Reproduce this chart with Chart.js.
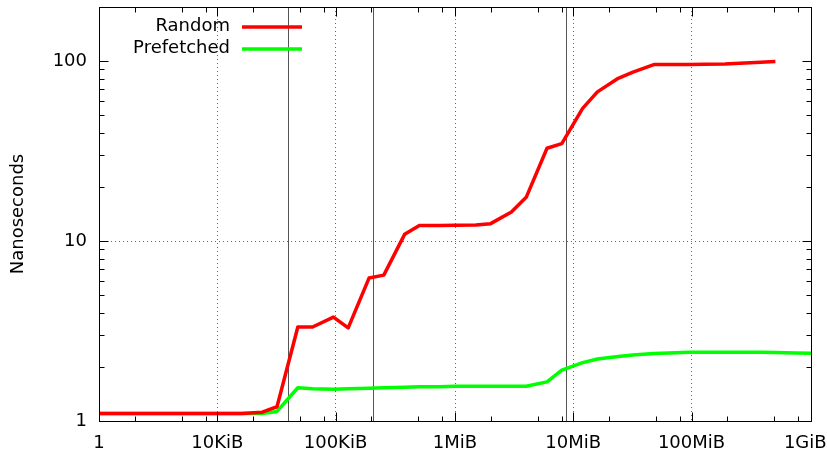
<!DOCTYPE html>
<html>
<head>
<meta charset="utf-8">
<script src="https://cdn.jsdelivr.net/npm/chart.js@4.4.1/dist/chart.umd.min.js"></script>
<style>
  html, body { margin: 0; padding: 0; background: #fff; }
</style>
</head>
<body>
<canvas id="cacheChart" width="827" height="454"></canvas>
<script>
// working set size in KiB
const sizesKiB = [1, 2, 4, 8, 12, 16, 24, 32, 48, 64, 96, 128, 192, 256, 384, 512, 768, 1024,
    1536, 2048, 3072, 4096, 6144, 8192, 12288, 16384, 24576, 32768, 49152, 65536, 98304,
    131072, 196608, 262144, 393216, 524288, 786432, 1048576];

const randomNs = [1.1, 1.1, 1.1, 1.1, 1.1, 1.1, 1.12, 1.2, 3.33, 3.33, 3.78, 3.29, 6.23, 6.47,
    10.9, 12.2, 12.2, 12.25, 12.3, 12.5, 14.5, 17.5, 32.8, 34.8, 54.6, 67.5, 80.3, 87, 95.7,
    95.8, 95.8, 96, 96.5, 97.5, 98.7, 99.6, null, null];

const prefetchedNs = [1.1, 1.1, 1.1, 1.1, 1.1, 1.1, 1.1, 1.13, 1.53, 1.51, 1.5, 1.51, 1.52, 1.53,
    1.54, 1.55, 1.55, 1.56, 1.56, 1.56, 1.56, 1.56, 1.65, 1.92, 2.11, 2.21, 2.28, 2.33, 2.37,
    2.39, 2.41, 2.41, 2.41, 2.41, 2.41, 2.4, 2.39, 2.38];

const xTickValues = [1, 10, 100, 1024, 10240, 102400, 1048576];
const xTickLabels = ['1', '10KiB', '100KiB', '1MiB', '10MiB', '100MiB', '1GiB'];
const xMinorSteps = [2, 5, 8];

const yTickValues = [1, 10, 100];
const yTickLabels = ['1', '10', '100'];
const yMinorValues = [2, 3, 4, 5, 6, 7, 8, 9, 20, 30, 40, 50, 60, 70, 80, 90, 200];

// cache size markers (KiB)
const cacheLinesKiB = [39.5, 206, 8890];

let xMinorValues = [];
xTickValues.slice(0, -1).forEach(v => {
    xMinorSteps.forEach(m => xMinorValues.push(v * m));
});

Chart.defaults.font.family = "'DejaVu Sans', sans-serif";
Chart.defaults.font.size = 18;
Chart.defaults.color = '#000';

function isInnerMajor(list, value) {
    return list.indexOf(value) > 0 && list.indexOf(value) < list.length - 1;
}

const gnuplotFrame = {
    id: 'gnuplotFrame',
    beforeDatasetsDraw(chart) {
        const { ctx, chartArea: a, scales: { x } } = chart;
        ctx.save();
        ctx.strokeStyle = '#555';
        ctx.lineWidth = 1;
        cacheLinesKiB.forEach(v => {
            const px = Math.round(x.getPixelForValue(v)) + 0.5;
            ctx.beginPath();
            ctx.moveTo(px, a.top);
            ctx.lineTo(px, a.bottom);
            ctx.stroke();
        });
        ctx.restore();
    },
    afterDraw(chart) {
        const { ctx, chartArea: a, scales: { x, y } } = chart;
        ctx.save();
        ctx.strokeStyle = '#000';
        ctx.lineWidth = 1;
        const l = Math.round(a.left) + 0.5, r = Math.round(a.right) + 0.5;
        const t = Math.round(a.top) + 0.5, b = Math.round(a.bottom) + 0.5;

        ctx.beginPath();
        const xt = (v, len) => {
            const px = Math.round(x.getPixelForValue(v)) + 0.5;
            ctx.moveTo(px, b); ctx.lineTo(px, b - len);
            ctx.moveTo(px, t); ctx.lineTo(px, t + len);
        };
        const yt = (v, len) => {
            const py = Math.round(y.getPixelForValue(v)) + 0.5;
            ctx.moveTo(l, py); ctx.lineTo(l + len, py);
            ctx.moveTo(r, py); ctx.lineTo(r - len, py);
        };
        xTickValues.forEach(v => xt(v, 9));
        xMinorValues.forEach(v => xt(v, 5));
        yTickValues.forEach(v => yt(v, 9));
        yMinorValues.forEach(v => yt(v, 5));
        ctx.stroke();
        ctx.strokeRect(l, t, r - l, b - t);

        // key, gnuplot style: text then sample line
        ctx.font = "18px 'DejaVu Sans', sans-serif";
        ctx.textAlign = 'right';
        ctx.textBaseline = 'middle';
        chart.data.datasets.forEach((ds, i) => {
            const ky = 26 + i * 22;
            ctx.fillStyle = '#000';
            ctx.fillText(ds.label, 230, ky);
            ctx.strokeStyle = ds.borderColor;
            ctx.lineWidth = 3.5;
            ctx.beginPath();
            ctx.moveTo(242, ky + 1);
            ctx.lineTo(302, ky + 1);
            ctx.stroke();
        });
        ctx.restore();
    }
};

function toPoints(values) {
    return sizesKiB.map((s, i) => ({ x: s, y: values[i] })).filter(p => p.y !== null);
}

new Chart('cacheChart', {
    type: 'line',
    data: {
        datasets: [{
            label: 'Random',
            data: toPoints(randomNs),
            borderColor: '#ff0000',
            borderWidth: 3.5,
            pointRadius: 0,
            tension: 0,
            borderJoinStyle: 'round'
        }, {
            label: 'Prefetched',
            data: toPoints(prefetchedNs),
            borderColor: '#00ff00',
            borderWidth: 3.5,
            pointRadius: 0,
            tension: 0,
            borderJoinStyle: 'round'
        }]
    },
    options: {
        responsive: false,
        animation: false,
        devicePixelRatio: 1,
        layout: { padding: { top: 7, right: 16, left: 0, bottom: 0 } },
        plugins: {
            legend: { display: false },
            tooltip: { enabled: false }
        },
        scales: {
            x: {
                type: 'logarithmic',
                min: 1,
                max: 1048576,
                afterBuildTicks: s => { s.ticks = xTickValues.map(v => ({ value: v })); },
                afterFit: s => { s.height = 33; s.paddingLeft = 0; s.paddingRight = 0; },
                ticks: {
                    autoSkip: false,
                    maxRotation: 0,
                    padding: 12,
                    callback: v => {
                        const i = xTickValues.indexOf(v);
                        if (i < 0) return '';
                        // last label is pulled in so it stays on the canvas
                        return i === xTickLabels.length - 1 ? xTickLabels[i] + '  ' : xTickLabels[i];
                    }
                },
                grid: {
                    drawTicks: false,
                    lineWidth: 1,
                    color: c => (c.tick && isInnerMajor(xTickValues, c.tick.value)) ? '#666' : 'rgba(0,0,0,0)'
                },
                border: { display: false, dash: [1, 3] }
            },
            y: {
                type: 'logarithmic',
                min: 1,
                max: 200,
                afterBuildTicks: s => { s.ticks = yTickValues.map(v => ({ value: v })); },
                afterFit: s => { s.width = 99; s.paddingTop = 0; s.paddingBottom = 0; },
                ticks: {
                    autoSkip: false,
                    padding: 12,
                    callback: v => {
                        const i = yTickValues.indexOf(v);
                        return i >= 0 ? yTickLabels[i] : '';
                    }
                },
                title: {
                    display: true,
                    text: 'Nanoseconds',
                    font: { size: 18 },
                    padding: { top: 8, bottom: 0 }
                },
                grid: {
                    drawTicks: false,
                    lineWidth: 1,
                    color: c => (c.tick && isInnerMajor(yTickValues, c.tick.value)) ? '#666' : 'rgba(0,0,0,0)'
                },
                border: { display: false, dash: [1, 3] }
            }
        }
    },
    plugins: [gnuplotFrame]
});
</script>
</body>
</html>
